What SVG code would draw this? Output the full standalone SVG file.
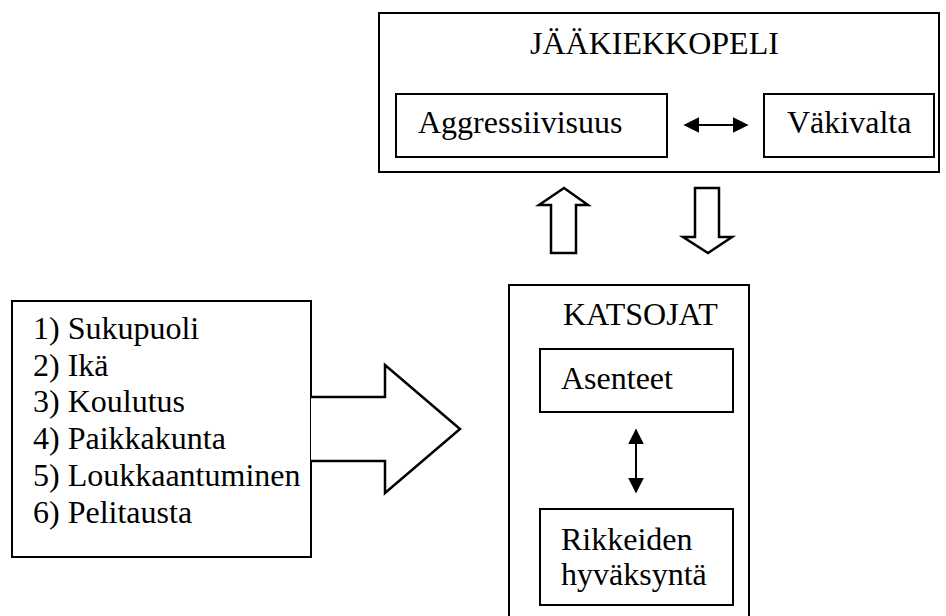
<svg xmlns="http://www.w3.org/2000/svg" width="946" height="616" viewBox="0 0 946 616">
<defs>
<style>
.box{fill:#fff;stroke:#000;stroke-width:2}
.blk{fill:#fff;stroke:#000;stroke-width:2.5;stroke-linejoin:miter}
.t{font-family:"Liberation Serif","Times New Roman",serif;font-size:32px;fill:#000}
.ln{stroke:#000;stroke-width:2;fill:none}
</style>
<marker id="ah" viewBox="0 0 10 10" refX="9" refY="5" markerWidth="16" markerHeight="16" markerUnits="userSpaceOnUse" orient="auto-start-reverse">
<path d="M0,0 L10,5 L0,10 z" fill="#000"/>
</marker>
</defs>
<rect width="946" height="616" fill="#fff"/>
<g id="jaakiekkopeli">
<rect class="box" x="379" y="13" width="560" height="159"/>
<text class="t" x="530" y="54">JÄÄKIEKKOPELI</text>
</g>
<g id="aggressiivisuus">
<rect class="box" x="396" y="94" width="271" height="63"/>
<text class="t" x="418" y="133">Aggressiivisuus</text>
</g>
<g id="vakivalta">
<rect class="box" x="764" y="94" width="170" height="63"/>
<text class="t" x="787" y="133">Väkivalta</text>
</g>
<g id="katsojat">
<rect class="box" x="509" y="285" width="240" height="340"/>
<text class="t" x="563" y="325">KATSOJAT</text>
</g>
<g id="asenteet">
<rect class="box" x="540" y="349" width="193" height="63"/>
<text class="t" x="561" y="389">Asenteet</text>
</g>
<g id="rikkeiden">
<rect class="box" x="540" y="509" width="193" height="96"/>
<text class="t" x="561" y="550">Rikkeiden</text>
<text class="t" x="561" y="585">hyväksyntä</text>
</g>
<g id="taustatekijat">
<rect class="box" x="12" y="301" width="299" height="256"/>
<text class="t" x="33" y="339">1) Sukupuoli</text>
<text class="t" x="33" y="376">2) Ikä</text>
<text class="t" x="33" y="412">3) Koulutus</text>
<text class="t" x="33" y="449">4) Paikkakunta</text>
<text class="t" x="33" y="486">5) Loukkaantuminen</text>
<text class="t" x="33" y="523">6) Pelitausta</text>
</g>
<g id="connectors">
<line class="ln" x1="685" y1="125" x2="747" y2="125" marker-start="url(#ah)" marker-end="url(#ah)"/>
<line class="ln" x1="636" y1="430" x2="636" y2="492" marker-start="url(#ah)" marker-end="url(#ah)"/>
<path class="blk" d="M551,253 L551,205 L539,205 L564,188 L588,205 L576,205 L576,253 Z"/>
<path class="blk" d="M695,188 L719,188 L719,237 L732,237 L708,253 L683,237 L695,237 Z"/>
<path class="blk" d="M311,397 L385,397 L385,365 L460,429 L385,493 L385,461 L311,461"/>
</g>
</svg>
